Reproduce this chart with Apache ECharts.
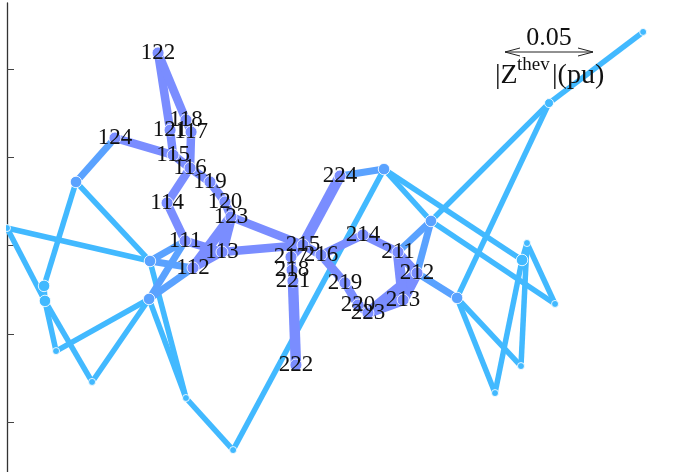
<!DOCTYPE html>
<html>
<head>
<meta charset="utf-8">
<style>html,body{margin:0;padding:0;background:#fff}#c{width:674px;height:472px}</style>
<script src="https://cdn.jsdelivr.net/npm/echarts@6/dist/echarts.min.js"></script>
</head>
<body>
<div id="c"></div>
<script>
// Thevenin impedance map, positions in pu
const busNames = ['111','112','113','114','115','116','117','118','119','120','121','122','123','124',
  '211','212','213','214','215','216','217','218','219','220','221','222','223','224',
  'A','B','C','D','E','F','G','H','I','J','K','L','M','N','O','P','Q','R','S','T'];
const busX = [.1009,.1054,.1218,.0907,.0941,.1037,.1043,.1014,.1150,.1235,.0924,.0856,.1269,.0612,
  .2215,.2323,.2244,.2017,.1677,.1779,.1609,.1615,.1915,.1989,.1620,.1637,.2045,.1887,
  .0391,0,.0210,.0215,.0278,.0482,.0810,.0805,.1014,.1281,.2136,.2402,.2550,.2918,.2946,.3105,.2912,.2765,.3071,.3604];
const busY = [.1026,.0873,.0963,.1241,.1513,.1439,.1643,.1711,.1360,.1247,.1654,.2091,.1162,.1609,
  .0963,.0844,.0691,.1060,.1003,.0946,.0935,.0861,.0788,.0663,.0799,.0323,.0618,.1394,
  .1360,.1099,.0771,.0686,.0402,.0227,.0912,.0697,.0136,-.0159,.1433,.1139,.0703,.0918,.1014,.0669,.0317,.0164,.1807,.2210];
const lightEdges = [['T','S'],['S','L'],['S','M'],['K','N'],['K','L'],['L','P'],['M','Q'],['M','R'],['R','N'],['O','Q'],['O','P'],['N','O'],
  ['A','C'],['A','G'],['B','G'],['B','D'],['C','D'],['D','E'],['D','F'],['E','H'],['F','H'],['G','I'],['H','I'],['I','J'],['J','K']];
const midEdges = [['A','124'],['224','K'],['L','212'],['L','211'],['212','M'],['G','111'],['G','112'],['H','111'],['H','112']];
const strongEdges = [['124','115'],['118','117'],['117','116'],['115','116'],['116','114'],['114','111'],
  ['116','119'],['119','120'],['120','123'],['123','215'],['111','113'],['112','113'],['113','215'],
  ['215','216'],['215','217'],['217','218'],['218','221'],['216','214'],['216','219'],['219','220'],['220','223'],['211','214'],['211','212'],
  ['122','121'],['122','118'],['121','115']];
const heavyEdges = [['123','113'],['123','112'],['215','224'],['221','222'],
  ['223','213'],['223','212'],['213','212'],['213','211']];
const largeBuses = ['A','C','D','G','H','K','L','M','N'];
const yTicks = [0,.05,.1,.15,.2];
const scaleLabel = '0.05';

const LIGHT='#42B9FF', MID='#5AA2FF', STRONG='#7A8DFF';
const links=[];
const add=(list,color,width)=>list.forEach(e=>links.push({source:e[0],target:e[1],lineStyle:{color,width,opacity:1,curveness:0}}));
add(lightEdges,LIGHT,5.5); add(midEdges,MID,7); add(strongEdges,STRONG,8.5); add(heavyEdges,STRONG,10.5);
const nodeColor={};
links.forEach(l=>{[l.source,l.target].forEach(n=>{nodeColor[n]=l.lineStyle.color;});});
const labelShift={'118':[-4,1],'121':[3,1]};
const nodes=busNames.map((n,i)=>({
  name:n,value:[busX[i],busY[i]],
  symbolSize:/\d/.test(n)?12:(n==='S'?9:(largeBuses.includes(n)?11.5:7)),
  itemStyle:{color:nodeColor[n],borderColor:'rgba(255,255,255,.85)',borderWidth:1},
  label:{show:/\d/.test(n),offset:labelShift[n]||[1,1]}
}));
const serif='"Liberation Serif","Times New Roman",serif';
const txt=(text,x,y,size,align)=>({type:'text',z:20,style:{text,x,y,font:size+'px '+serif,fill:'#111',align:align||'left',verticalAlign:'middle'}});
const ln=(pts)=>({type:'polyline',z:20,shape:{points:pts},style:{stroke:'#222',lineWidth:1,fill:null}});

const chart=echarts.init(document.getElementById('c'),null,{renderer:'canvas'});
chart.setOption({
  animation:false,
  backgroundColor:'#fff',
  grid:{left:7,top:3,width:667,height:469,containLabel:false},
  xAxis:{type:'value',min:0,max:.3779,show:false,splitLine:{show:false}},
  yAxis:{type:'value',min:-.02833,max:.2374,
    axisLine:{show:true,onZero:false,lineStyle:{color:'#333',width:1.3}},
    axisTick:{show:true,inside:true,length:7,customValues:yTicks,lineStyle:{color:'#444',width:1}},
    axisLabel:{show:false},splitLine:{show:false}},
  series:[{
    type:'graph',layout:'none',coordinateSystem:'cartesian2d',roam:false,
    symbol:'circle',symbolSize:11,
    data:nodes,links:links,
    edgeSymbol:['none','none'],
    label:{show:true,position:'inside',color:'#111',fontFamily:serif,fontSize:23,formatter:'{b}'},
    labelLayout:{hideOverlap:false},
    emphasis:{disabled:true}
  }],
  graphic:[
    {type:'rect',z:15,silent:true,shape:{x:0,y:0,width:6,height:472},style:{fill:'#fff'}},
    txt(scaleLabel,549,38,26,'center'),
    ln([[505,52],[593,52]]),
    ln([[505,52],[520,48]]),ln([[505,52],[520,56]]),
    ln([[593,52],[578,48]]),ln([[593,52],[578,56]]),
    txt('|Z',495,76,28),
    txt('thev',517,65,19),
    txt('|(pu)',552,76,28)
  ]
});
</script>
</body>
</html>
